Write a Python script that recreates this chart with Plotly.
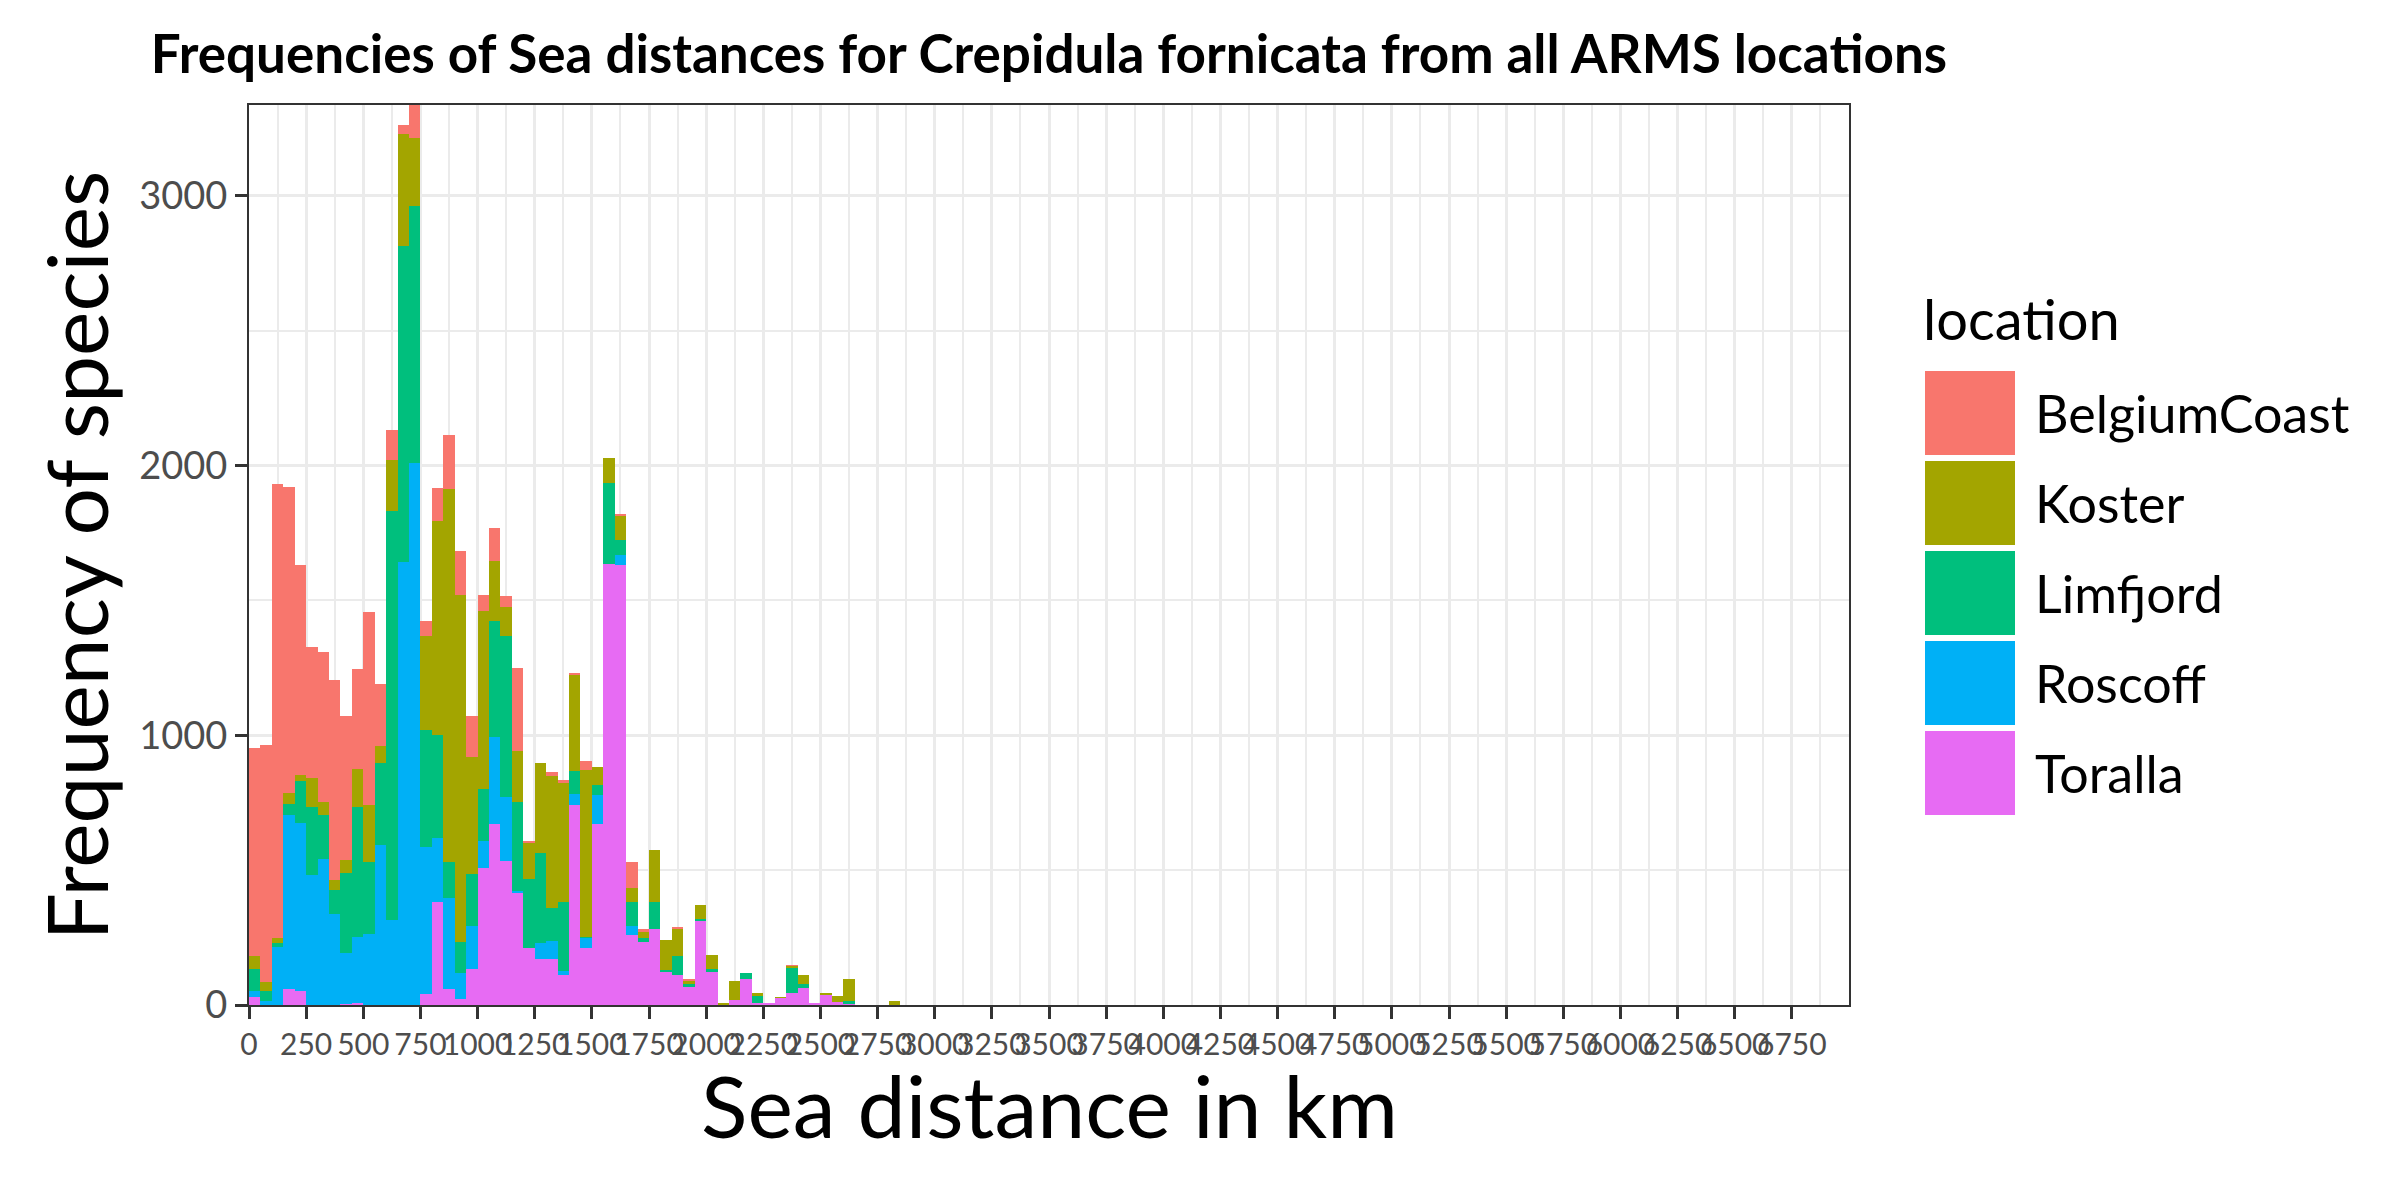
import plotly.graph_objects as go

# ---------------- data ----------------
bin_start = list(range(0, 2850, 50))          # histogram bins, 50 km wide
bin_width = 50

locations = ["BelgiumCoast", "Koster", "Limfjord", "Roscoff", "Toralla"]
colors = ["#F8766D", "#A3A500", "#00BF7D", "#00B0F6", "#E76BF3"]

toralla = [29, 0, 0, 59, 53, 0, 0, 0, 2, 7,
           0, 0, 0, 0, 0, 42, 383, 59, 22, 132,
           507, 672, 535, 416, 211, 172, 172, 110, 742, 211,
           672, 1637, 1630, 258, 233, 280, 123, 112, 70, 315,
           123, 0, 18, 95, 9, 7, 26, 44, 64, 7,
           40, 11, 2, 0, 0, 0, 0]
roscoff = [24, 15, 214, 644, 623, 482, 540, 337, 190, 246,
           264, 592, 315, 1641, 2011, 542, 238, 337, 97, 161,
           101, 321, 238, 5, 0, 59, 64, 16, 40, 38,
           106, 0, 37, 35, 0, 0, 0, 0, 0, 0,
           0, 0, 0, 0, 0, 0, 0, 0, 0, 0,
           0, 0, 0, 0, 0, 0, 0]
limfjord = [79, 38, 15, 44, 154, 251, 163, 88, 297, 480,
            265, 304, 1515, 1172, 952, 436, 381, 135, 114, 192,
            192, 430, 595, 330, 258, 331, 123, 255, 84, 3,
            37, 297, 58, 88, 16, 101, 7, 71, 7, 4,
            11, 0, 0, 22, 24, 0, 0, 95, 13, 0,
            0, 0, 13, 0, 0, 0, 0]
koster = [49, 33, 18, 39, 22, 108, 48, 38, 48, 141,
          211, 64, 190, 418, 253, 350, 793, 1383, 1289, 434,
          660, 222, 106, 190, 132, 334, 489, 445, 359, 621,
          68, 95, 90, 53, 22, 192, 110, 97, 11, 53,
          53, 4, 70, 0, 13, 0, 3, 6, 35, 0,
          4, 24, 82, 0, 0, 0, 15]
belgium = [771, 877, 1685, 1133, 780, 487, 557, 742, 533, 370,
           718, 229, 112, 33, 121, 55, 121, 201, 163, 151,
           60, 122, 44, 310, 5, 0, 15, 7, 6, 33,
           0, 0, 7, 95, 9, 0, 0, 11, 9, 0,
           0, 0, 0, 0, 0, 0, 0, 2, 0, 0,
           0, 0, 0, 0, 0, 0, 0]

x_tick_vals = list(range(0, 7000, 250))
y_tick_vals = [0, 1000, 2000, 3000]
x_max = 7000

series = {
    "BelgiumCoast": belgium,
    "Koster": koster,
    "Limfjord": limfjord,
    "Roscoff": roscoff,
    "Toralla": toralla,
}

# ---------------- figure ----------------
W, H = 2400, 1200
L, R, T, B = 249, 551, 105, 195
PW, PH = W - L - R, H - T - B
FONT = "Lato"

centers = [s + bin_width / 2 for s in bin_start]
fig = go.Figure()
# stack: first trace at the bottom (Toralla), last on top (BelgiumCoast)
for name in reversed(locations):
    fig.add_trace(go.Bar(
        x=centers, y=series[name], width=bin_width, name=name,
        marker=dict(color=colors[locations.index(name)], line=dict(width=0)),
        showlegend=False,
    ))

totals = [sum(v) for v in zip(*series.values())]
y_max = max(totals)

grid_major = "#EBEBEB"

fig.update_layout(
    width=W, height=H, autosize=False,
    margin=dict(l=L, r=R, t=T, b=B, pad=0),
    paper_bgcolor="white", plot_bgcolor="white",
    barmode="stack", bargap=0, bargroupgap=0,
    font=dict(family=FONT, color="black"),
    title=dict(
        text="Frequencies of Sea distances for Crepidula fornicata from all ARMS locations",
        font=dict(family=FONT, size=53, color="black", weight="bold"),
        x=0.5, xref="paper", xanchor="center",
        y=1 - 54 / H, yref="container", yanchor="middle",
    ),
    xaxis=dict(
        range=[0, x_max], tickmode="array", tickvals=x_tick_vals,
        ticktext=[str(v) for v in x_tick_vals], tickangle=0,
        showgrid=True, gridcolor=grid_major, gridwidth=3,
        minor=dict(dtick=125, tick0=0, showgrid=True, gridcolor=grid_major, gridwidth=1.5, ticks=""),
        zeroline=False,
        showline=True, linecolor="#333333", linewidth=2, mirror=True,
        ticks="outside", ticklen=12, tickwidth=3, tickcolor="#333333",
        tickfont=dict(family=FONT, size=30, color="#4D4D4D"),
    ),
    yaxis=dict(
        range=[0, y_max], tickmode="array", tickvals=y_tick_vals,
        ticktext=[str(v) for v in y_tick_vals],
        showgrid=True, gridcolor=grid_major, gridwidth=3,
        minor=dict(dtick=500, tick0=0, showgrid=True, gridcolor=grid_major, gridwidth=1.5, ticks=""),
        zeroline=False,
        showline=True, linecolor="#333333", linewidth=2, mirror=True,
        ticks="outside", ticklen=12, tickwidth=3, tickcolor="#333333",
        tickfont=dict(family=FONT, size=38, color="#4D4D4D"),
    ),
)


def px_x(px):
    return (px - L) / PW


def px_y(py):
    return (H - B - py) / PH


annotations = []
# axis titles
annotations.append(dict(
    text="Sea distance in km", x=0.5, y=px_y(1104.5), xref="paper", yref="paper",
    xanchor="center", yanchor="middle", showarrow=False,
    font=dict(family=FONT, size=86, color="black"),
))
annotations.append(dict(
    text="Frequency of species", x=px_x(74.5), y=px_y(556), xref="paper", yref="paper",
    xanchor="center", yanchor="middle", showarrow=False, textangle=-90,
    font=dict(family=FONT, size=84, color="black"),
))

# custom legend (large keys like ggplot)
shapes = []
annotations.append(dict(
    text="location", x=px_x(1921), y=px_y(318), xref="paper", yref="paper",
    xanchor="left", yanchor="middle", showarrow=False,
    font=dict(family=FONT, size=56, color="black"),
))
key_top0, key_h, key_step = 371, 84, 90
key_x0, key_x1 = 1925, 2015
for i, name in enumerate(locations):
    top = key_top0 + i * key_step
    shapes.append(dict(
        type="rect", xref="paper", yref="paper",
        x0=px_x(key_x0), x1=px_x(key_x1), y0=px_y(top + key_h), y1=px_y(top),
        fillcolor=colors[i], line=dict(width=0), layer="above",
    ))
    annotations.append(dict(
        text=name, x=px_x(2033), y=px_y(top + key_h / 2), xref="paper", yref="paper",
        xanchor="left", yanchor="middle", showarrow=False,
        font=dict(family=FONT, size=52, color="black"),
    ))

fig.update_layout(annotations=annotations, shapes=shapes)

fig.write_html("out.html")
